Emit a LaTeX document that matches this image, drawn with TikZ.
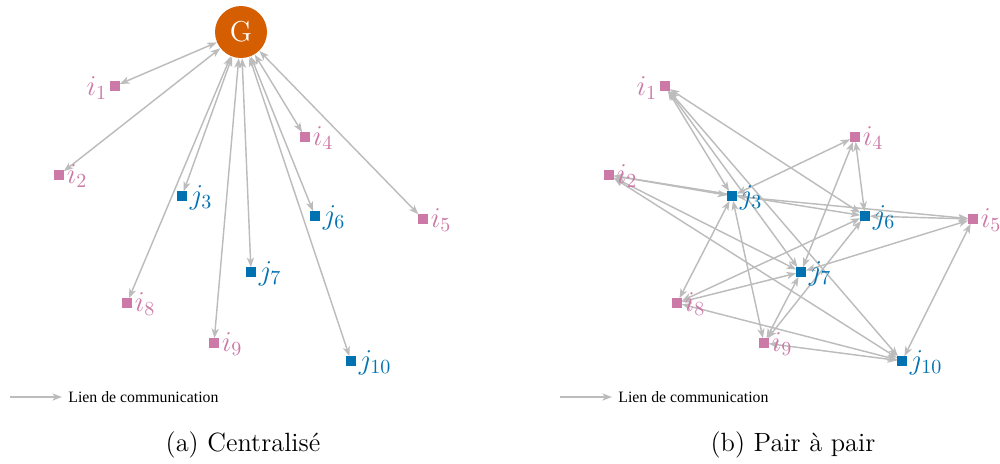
\documentclass[tikz,border=0pt]{standalone}
\usepackage{fontspec}
\newfontfamily\legfont{Liberation Serif}
\usetikzlibrary{arrows.meta}
\definecolor{pinkc}{HTML}{CC79A7}
\definecolor{bluec}{HTML}{0072B2}
\definecolor{orangec}{HTML}{D55E00}
\definecolor{linkc}{RGB}{188,188,188}
\pgfdeclarelayer{bg}
\pgfsetlayers{bg,main}
\tikzset{
  isq/.style={fill=pinkc, minimum size=4.8pt, inner sep=0pt, outer sep=0pt},
  jsq/.style={fill=bluec, minimum size=4.8pt, inner sep=0pt, outer sep=0pt},
  ilab/.style={text=pinkc, inner sep=0pt, font=\fontsize{14.4}{17}\selectfont},
  jlab/.style={text=bluec, inner sep=0pt, font=\fontsize{14.4}{17}\selectfont},
  gnode/.style={circle, fill=orangec, text=white, minimum size=26pt, inner sep=0pt, font=\fontsize{14.4}{17}\selectfont},
  link/.style={draw=linkc, line width=0.72pt, {Stealth[length=4.8pt,width=3.6pt,inset=1.3pt]}-{Stealth[length=4.8pt,width=3.6pt,inset=1.3pt]}},
  onelink/.style={draw=linkc, line width=0.72pt, -{Stealth[length=4.8pt,width=3.6pt,inset=1.3pt]}},
  legtext/.style={font=\legfont\fontsize{7.9}{9}\selectfont, inner sep=0pt, anchor=west},
  caption/.style={font=\fontsize{13.2}{15}\selectfont, inner sep=0pt}
}
\begin{document}
\begin{tikzpicture}[x=0.5pt,y=-0.5pt]
\useasboundingbox (0,0) rectangle (1000,463);
% ---------- left panel: centralised ----------
\node[gnode] (G) at (241,32) {G};
\foreach \n/\t/\k/\x/\y in {i2/i/2/59/175, j3/j/3/182/196, i4/i/4/305/137, i5/i/5/423/219, j6/j/6/315/216, j7/j/7/251/272, i8/i/8/127/303, i9/i/9/214/343, j10/j/10/351/361}{
  \node[\t sq] (a\n) at (\x,\y) {};
  \node[\t lab, anchor=base west] (la\n) at ([xshift=1.3pt,yshift=-4.1pt]a\n.east) {$\t_{\k}$};
  \begin{pgfonlayer}{bg}
    \draw[link] (G) -- (a\n);
  \end{pgfonlayer}
}
\node[isq] (ai1) at (115,86) {};
\node[ilab, anchor=base east] (lai1) at ([xshift=-1.3pt,yshift=-4.6pt]ai1.west) {$i_{1}$};
\begin{pgfonlayer}{bg}
  \draw[link] (G) -- (ai1);
\end{pgfonlayer}
% legend
\coordinate (la0) at (10,397);
\coordinate (la1) at (62,397);
\draw[onelink] (la0) -- (la1);
\node[legtext] (lega) at (68,397) {Lien de communication};
\node[caption] (capa) at (243,445) {(a) Centralisé};
% ---------- right panel: peer to peer ----------
\foreach \n/\t/\k/\x/\y in {i2/i/2/609/175, j3/j/3/732/196, i4/i/4/855/137, i5/i/5/973/219, j6/j/6/865/216, j7/j/7/801/272, i8/i/8/677/303, i9/i/9/764/343, j10/j/10/902/361}{
  \node[\t sq] (b\n) at (\x,\y) {};
  \node[\t lab, anchor=base west] (lb\n) at ([xshift=1.3pt,yshift=-4.1pt]b\n.east) {$\t_{\k}$};
}
\node[isq] (bi1) at (665,86) {};
\node[ilab, anchor=base east] (lbi1) at ([xshift=-1.3pt,yshift=-4.6pt]bi1.west) {$i_{1}$};
\begin{pgfonlayer}{bg}
\foreach \a/\b in {i1/j3, i1/j6, i1/j7, i1/j10,
                   i2/j3, i2/j6, i2/j7, i2/j10,
                   i4/j3, i4/j6, i4/j7,
                   i5/j3, i5/j6, i5/j7, i5/j10,
                   i8/j3, i8/j6, i8/j7, i8/j10,
                   i9/j3, i9/j6, i9/j7, i9/j10}{
  \draw[link] (b\a) -- (b\b);
}
\end{pgfonlayer}
% legend
\coordinate (lb0) at (560,397);
\coordinate (lb1) at (612,397);
\draw[onelink] (lb0) -- (lb1);
\node[legtext] (legb) at (618,397) {Lien de communication};
\node[caption] (capb) at (793,445) {(b) Pair à pair};
\end{tikzpicture}
\end{document}
